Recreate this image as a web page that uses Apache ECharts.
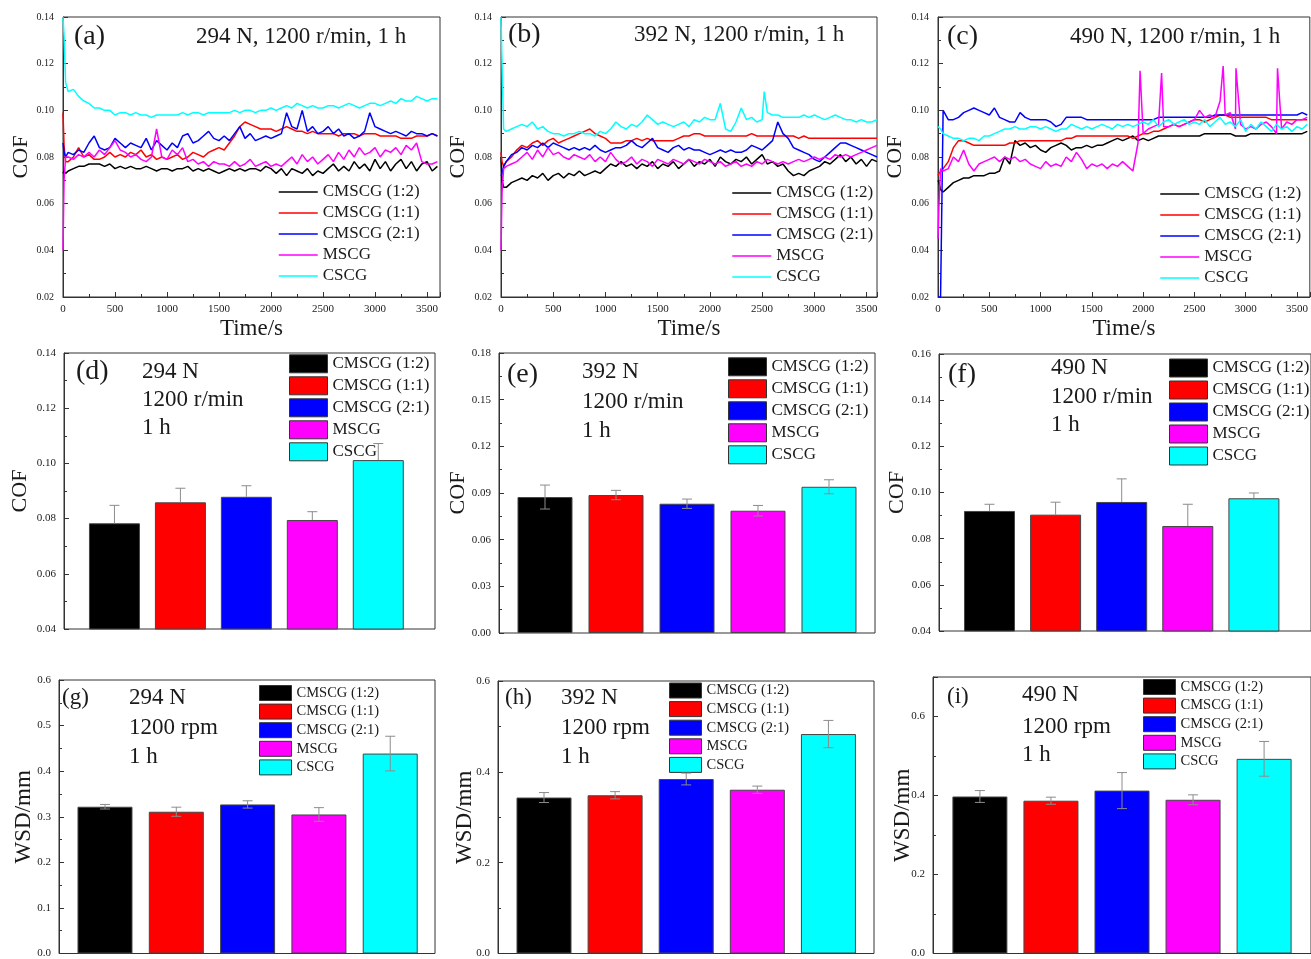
<!DOCTYPE html>
<html>
<head>
<meta charset="utf-8">
<script src="https://cdn.jsdelivr.net/npm/echarts@6/dist/echarts.min.js"></script>
<style>
  html, body { margin: 0; padding: 0; background: #fff; }
  #chart { width: 1311px; height: 959px; }
</style>
</head>
<body>
<div id="chart"></div>
<script>
const NAMES = ['CMSCG (1:2)', 'CMSCG (1:1)', 'CMSCG (2:1)', 'MSCG', 'CSCG'];
const COLORS = ['#000000', '#ff0000', '#0000ff', '#ff00ff', '#00ffff'];

// sampling times (s) of the COF traces
const TIME = [0, 10, 25,
  50, 100, 150, 200, 250, 300, 350, 400, 450, 500,
  550, 600, 650, 700, 750, 800, 850, 900, 950, 1000,
  1050, 1100, 1150, 1200, 1250, 1300, 1350, 1400, 1450, 1500,
  1550, 1600, 1650, 1700, 1750, 1800, 1850, 1900, 1950, 2000,
  2050, 2100, 2150, 2200, 2250, 2300, 2350, 2400, 2450, 2500,
  2550, 2600, 2650, 2700, 2750, 2800, 2850, 2900, 2950, 3000,
  3050, 3100, 3150, 3200, 3250, 3300, 3350, 3400, 3450, 3500,
  3550, 3600];

// COF x 1000, panel (a) 294 N
const a_cmscg12 = [73, 74, 73,
  74, 75, 76, 76, 77, 77, 77, 76, 77, 75,
  76, 75, 76, 75, 75, 76, 75, 74, 75, 75,
  74, 75, 75, 76, 74, 75, 74, 75, 74, 73,
  74, 75, 74, 75, 74, 75, 75, 74, 76, 75,
  73, 75, 72, 75, 74, 73, 75, 72, 74, 73,
  75, 77, 74, 76, 74, 78, 75, 77, 74, 79,
  75, 78, 74, 77, 79, 75, 78, 74, 77, 78,
  74, 76];
const a_cmscg11 = [99, 85, 78,
  78, 80, 84, 80, 81, 79, 79, 80, 82, 80,
  81, 80, 82, 81, 83, 80, 81, 79, 80, 79,
  80, 81, 79, 80, 82, 81, 80, 82, 83, 84,
  83, 86, 89, 93, 95, 94, 93, 92, 92, 92,
  91, 92, 93, 92, 91, 91, 90, 91, 90, 90,
  90, 90, 89, 90, 90, 90, 89, 90, 90, 90,
  89, 89, 89, 89, 88, 88, 88, 89, 89, 89,
  90, 89];
const a_cmscg21 = [86, 82, 80,
  82, 81, 83, 82, 86, 89, 84, 83, 84, 88,
  86, 84, 86, 85, 84, 88, 83, 87, 85, 83,
  86, 84, 89, 90, 86, 87, 89, 91, 88, 87,
  89, 87, 90, 93, 88, 90, 87, 88, 89, 88,
  89, 90, 99, 93, 92, 100, 91, 93, 90, 91,
  93, 90, 92, 89, 90, 88, 89, 91, 99, 93,
  92, 91, 90, 91, 90, 89, 91, 90, 90, 89,
  90, 89];
const a_mscg = [40, 70, 80,
  80, 79, 81, 80, 82, 80, 83, 81, 84, 87,
  83, 82, 80, 81, 79, 78, 80, 92, 80, 79,
  83, 81, 84, 78, 79, 77, 78, 76, 78, 77,
  77, 76, 78, 76, 77, 79, 76, 77, 78, 76,
  77, 76, 78, 80, 77, 81, 78, 80, 77, 79,
  81, 78, 82, 79, 83, 80, 84, 81, 82, 84,
  80, 83, 82, 84, 81, 85, 83, 86, 78, 77,
  77, 78];
const a_cscg = [140, 132, 112,
  108, 109, 106, 104, 103, 101, 101, 100, 100, 98,
  99, 99, 98, 99, 98, 98, 97, 98, 98, 98,
  98, 98, 99, 98, 99, 99, 98, 99, 99, 99,
  99, 99, 100, 99, 100, 100, 99, 100, 100, 101,
  100, 101, 102, 101, 103, 102, 101, 102, 101, 101,
  102, 102, 101, 102, 103, 102, 101, 102, 103, 103,
  102, 103, 104, 103, 105, 104, 104, 106, 105, 104,
  105, 105];

// COF x 1000, panel (b) 392 N
const b_cmscg12 = [80, 70, 67,
  67, 69, 70, 71, 70, 72, 71, 73, 70, 72,
  73, 71, 73, 72, 74, 72, 73, 74, 73, 75,
  77, 76, 78, 76, 77, 75, 77, 76, 78, 75,
  77, 76, 78, 75, 77, 79, 76, 78, 77, 79,
  76, 80, 78, 77, 79, 78, 80, 77, 79, 81,
  77, 78, 76, 77, 74, 72, 73, 72, 74, 75,
  76, 78, 77, 79, 81, 78, 80, 77, 79, 76,
  79, 78];
const b_cmscg11 = [82, 78, 76,
  78, 80, 83, 85, 84, 86, 87, 85, 87, 88,
  86, 87, 88, 89, 90, 91, 92, 90, 89, 88,
  86, 86, 86, 87, 87, 88, 87, 88, 87, 87,
  87, 87, 87, 88, 89, 89, 90, 90, 89, 89,
  89, 89, 89, 89, 89, 89, 89, 90, 89, 89,
  89, 89, 89, 89, 89, 89, 88, 89, 88, 88,
  88, 88, 88, 88, 88, 88, 88, 88, 88, 88,
  88, 88];
const b_cmscg21 = [72, 73, 76,
  78, 81, 82, 84, 83, 85, 84, 86, 84, 86,
  85, 84, 83, 84, 83, 84, 83, 85, 83, 82,
  83, 84, 84, 85, 87, 85, 84, 86, 88, 84,
  83, 82, 84, 85, 83, 84, 83, 83, 82, 81,
  82, 83, 82, 83, 82, 82, 83, 85, 84, 83,
  85, 87, 95, 90, 88, 84, 83, 82, 81, 79,
  78, 80, 82, 84, 86, 86, 85, 84, 83, 82,
  81, 80];
const b_mscg = [40, 65, 75,
  76, 77, 78, 80, 82, 79, 83, 80, 84, 81,
  82, 80, 79, 81, 80, 79, 81, 78, 80, 78,
  82, 79, 77, 78, 80, 77, 79, 78, 76, 79,
  78, 77, 79, 78, 77, 79, 78, 77, 79, 78,
  77, 78, 76, 77, 78, 76, 77, 76, 78, 77,
  79, 78, 77, 78, 77, 78, 79, 78, 79, 80,
  79, 80, 79, 81, 80, 81, 80, 81, 82, 83,
  84, 85];
const b_cscg = [140, 120, 92,
  91, 92, 93, 94, 93, 95, 92, 93, 91, 90,
  90, 89, 90, 90, 91, 90, 90, 89, 91, 90,
  92, 95, 93, 92, 94, 93, 95, 98, 96, 94,
  95, 94, 93, 94, 95, 93, 96, 95, 97, 96,
  96, 103, 92, 91, 95, 101, 96, 97, 95, 96,
  99, 98, 98, 97, 97, 97, 97, 98, 97, 98,
  97, 96, 97, 98, 97, 96, 96, 95, 96, 95,
  95, 96];
const b_cscg_spikes = [[2520, 108]];

// COF x 1000, panel (c) 490 N
const c_cmscg12 = [70, 69, 66,
  65, 67, 69, 70, 71, 71, 72, 72, 72, 73,
  73, 74, 80, 77, 87, 85, 86, 84, 85, 83,
  82, 84, 85, 86, 85, 83, 84, 84, 85, 84,
  85, 85, 86, 87, 88, 87, 88, 89, 87, 88,
  87, 88, 89, 89, 89, 89, 89, 89, 89, 89,
  89, 90, 90, 90, 90, 90, 90, 89, 89, 89,
  90, 90, 90, 90, 90, 90, 90, 90, 90, 90,
  90, 91];
const c_cmscg11 = [72, 73, 73,
  75, 78, 84, 87, 87, 86, 85, 85, 85, 85,
  85, 85, 85, 86, 86, 87, 87, 87, 87, 87,
  87, 87, 87, 87, 88, 88, 89, 89, 89, 89,
  89, 89, 89, 89, 89, 89, 89, 88, 89, 90,
  90, 91, 91, 92, 93, 94, 93, 94, 95, 96,
  96, 95, 96, 97, 98, 98, 97, 97, 97, 97,
  97, 97, 97, 97, 96, 96, 96, 96, 96, 96,
  96, 96];
const c_cmscg21 = [20, 20, 20,
  100, 96, 96, 97, 99, 100, 101, 100, 99, 98,
  101, 97, 96, 95, 95, 99, 97, 96, 96, 96,
  96, 95, 93, 94, 97, 97, 97, 97, 96, 96,
  96, 96, 96, 96, 96, 96, 96, 96, 96, 96,
  96, 96, 97, 97, 97, 97, 97, 97, 97, 97,
  97, 97, 97, 98, 98, 98, 98, 98, 98, 98,
  98, 98, 98, 98, 98, 98, 98, 98, 98, 98,
  99, 98];
const c_mscg = [45, 60, 75,
  74, 75, 80, 78, 83, 77, 74, 77, 78, 79,
  80, 78, 80, 79, 80, 78, 79, 77, 76, 75,
  78, 76, 77, 76, 80, 78, 82, 79, 75, 77,
  76, 77, 75, 77, 76, 78, 76, 74, 86, 90,
  92, 93, 94, 93, 93, 94, 93, 94, 95, 96,
  100, 97, 98, 97, 104, 98, 99, 92, 94, 92,
  93, 92, 94, 95, 93, 90, 92, 95, 94, 96,
  96, 97];
const c_mscg_spikes = [[1970, 117], [2180, 116], [2780, 119], [2905, 118], [3310, 118]];
const c_cscg = [93, 93, 92,
  90, 89, 88, 88, 87, 88, 88, 87, 89, 89,
  90, 91, 92, 92, 93, 92, 92, 93, 93, 92,
  93, 92, 91, 92, 92, 94, 93, 92, 93, 92,
  93, 94, 93, 92, 94, 93, 94, 93, 94, 95,
  94, 96, 93, 95, 96, 94, 95, 96, 94, 95,
  94, 96, 93, 95, 97, 94, 95, 93, 96, 91,
  94, 92, 95, 93, 91, 94, 92, 93, 91, 93,
  92, 94];

// mean COF and error, panels (d)-(f)
const d_cof = [0.0783, 0.0859, 0.0879, 0.0795, 0.1012];
const d_err = [0.0065, 0.0051, 0.0040, 0.0030, 0.0060];
const e_cof = [0.0874, 0.0887, 0.0831, 0.0786, 0.0940];
const e_err = [0.0077, 0.0030, 0.0030, 0.0034, 0.0045];
const f_cof = [0.0920, 0.0904, 0.0959, 0.0855, 0.0975];
const f_err = [0.0029, 0.0054, 0.0100, 0.0094, 0.0023];

// wear scar diameter (mm) and error, panels (g)-(i)
const g_wsd = [0.322, 0.311, 0.327, 0.305, 0.4386];
const g_err = [0.005, 0.010, 0.008, 0.015, 0.038];
const h_wsd = [0.3434, 0.3484, 0.3842, 0.3606, 0.4832];
const h_err = [0.011, 0.008, 0.013, 0.008, 0.030];
const i_wsd = [0.3975, 0.3868, 0.4124, 0.3892, 0.4928];
const i_err = [0.015, 0.009, 0.0456, 0.0125, 0.044];

const SERIF = 'Liberation Serif';
const INK = '#1a1a1a';
const FRAME = '#333';

const LINE_PANELS = [
  { id: 'a', box: [63, 17, 377, 280], xMax: 3625, traces: [a_cmscg12, a_cmscg11, a_cmscg21, a_mscg, a_cscg],
    spikes: [[], [], [], [], []], legend: [278, 183.5], yGap: 31 },
  { id: 'b', box: [501, 17, 376, 280], xMax: 3600, traces: [b_cmscg12, b_cmscg11, b_cmscg21, b_mscg, b_cscg],
    spikes: [[], [], [], [], b_cscg_spikes], legend: [731.5, 184.5], yGap: 31.5 },
  { id: 'c', box: [938, 17, 377, 280], xMax: 3625, traces: [c_cmscg12, c_cmscg11, c_cmscg21, c_mscg, c_cscg],
    spikes: [[], [], [], c_mscg_spikes, []], legend: [1159.5, 185.5], yGap: 32 }
];

const BAR_PANELS = [
  { id: 'd', box: [64, 353, 371, 276], x: [0.235, 5.86], y: [0.04, 0.14, 0.02], digits: 2, vals: d_cof, err: d_err,
    oneSided: true, barW: 51, yName: 'COF', yGap: 33, legend: [289, 354.3, 38, 18, 17, 3] },
  { id: 'e', box: [499, 353, 376, 280], x: [0.352, 5.648], y: [0, 0.18, 0.03], digits: 2, vals: e_cof, err: e_err,
    oneSided: false, barW: 55, yName: 'COF', yGap: 29.5, legend: [728, 357.3, 38, 18, 17, 3] },
  { id: 'f', box: [939, 354, 372, 277], x: [0.236, 5.864], y: [0.04, 0.16, 0.02], digits: 2, vals: f_cof, err: f_err,
    oneSided: true, barW: 51, yName: 'COF', yGap: 31, legend: [1169, 358.5, 38, 18, 17, 3] },
  { id: 'g', box: [59, 680, 376, 280], x: [0.355, 5.628], y: [0, 0.6, 0.1], digits: 1, vals: g_wsd, err: g_err,
    oneSided: false, barW: 55, yName: 'WSD/mm', yGap: 24, legend: [259, 685, 32, 15, 14.5, 2.6] },
  { id: 'h', box: [498, 681, 376, 279], x: [0.353, 5.641], y: [0, 0.6, 0.2], digits: 1, vals: h_wsd, err: h_err,
    oneSided: false, barW: 55, yName: 'WSD/mm', yGap: 21.5, legend: [669, 682.5, 32, 15, 14.5, 2.6] },
  { id: 'i', box: [933, 677, 379, 281], x: [0.34, 5.66], y: [0, 0.7, 0.2], digits: 1, vals: i_wsd, err: i_err,
    oneSided: false, barW: 55, yName: 'WSD/mm', yGap: 19, legend: [1143, 679, 32, 15, 14.5, 2.6] }
];

// [text, x, y(middle), font size]
const NOTES = [
  ['(a)', 74, 37, 28], ['294 N, 1200 r/min, 1 h', 196, 37, 23],
  ['(b)', 508, 35, 28], ['392 N, 1200 r/min, 1 h', 634, 35, 23],
  ['(c)', 947, 37, 28], ['490 N, 1200 r/min, 1 h', 1070, 37, 23],
  ['(d)', 76, 372, 28], ['294 N', 142, 372, 23], ['1200 r/min', 142, 400, 23], ['1 h', 142, 428, 23],
  ['(e)', 507, 375, 28], ['392 N', 582, 372, 23], ['1200 r/min', 582, 402, 23], ['1 h', 582, 431, 23],
  ['(f)', 948, 375, 28], ['490 N', 1051, 368, 23], ['1200 r/min', 1051, 397, 23], ['1 h', 1051, 425, 23],
  ['(g)', 62, 698, 23], ['294 N', 129, 698, 23], ['1200 rpm', 129, 728, 23], ['1 h', 129, 757, 23],
  ['(h)', 505, 698, 23], ['392 N', 561, 698, 23], ['1200 rpm', 561, 728, 23], ['1 h', 561, 757, 23],
  ['(i)', 947, 697, 23], ['490 N', 1022, 695, 23], ['1200 rpm', 1022, 727, 23], ['1 h', 1022, 755, 23]
];

const chart = echarts.init(document.getElementById('chart'));

const grid = [], xAxis = [], yAxis = [], series = [], legend = [];

function tickStyle() {
  return {
    axisLine: { show: true, onZero: false, lineStyle: { color: FRAME, width: 1 } },
    axisTick: { show: true, inside: true, length: 5, lineStyle: { color: FRAME } },
    minorTick: { show: true, splitNumber: 2, length: 3, lineStyle: { color: FRAME } },
    splitLine: { show: false }
  };
}

function addGrid(box) {
  grid.push({ left: box[0], top: box[1], width: box[2], height: box[3],
    show: true, borderColor: FRAME, borderWidth: 1, backgroundColor: 'transparent' });
  return grid.length - 1;
}

const stripTag = n => n.split('#')[0];

LINE_PANELS.forEach(p => {
  const k = addGrid(p.box);
  xAxis.push(Object.assign({
    type: 'value', gridIndex: k, min: 0, max: p.xMax, interval: 500,
    name: 'Time/s', nameLocation: 'middle', nameGap: 20,
    nameTextStyle: { fontFamily: SERIF, fontSize: 23, color: INK },
    axisLabel: { fontFamily: SERIF, fontSize: 11, color: INK, margin: 7, showMaxLabel: false,
      formatter: v => String(Math.round(v)) }
  }, tickStyle()));
  yAxis.push(Object.assign({
    type: 'value', gridIndex: k, min: 0.02, max: 0.14, interval: 0.02,
    name: 'COF', nameLocation: 'middle', nameGap: p.yGap, nameMoveOverlap: false,
    nameTextStyle: { fontFamily: SERIF, fontSize: 22, color: INK },
    axisLabel: { fontFamily: SERIF, fontSize: 10, color: INK, margin: 9, formatter: v => v.toFixed(2) }
  }, tickStyle()));
  p.traces.forEach((vals, j) => {
    const pts = vals.map((v, i) => [TIME[i], v / 1000]);
    p.spikes[j].forEach(s => pts.push([s[0], s[1] / 1000]));
    pts.sort((u, w) => u[0] - w[0]);
    series.push({
      type: 'line', name: NAMES[j] + '#' + p.id, xAxisIndex: k, yAxisIndex: k,
      data: pts, symbol: 'none', clip: true,
      lineStyle: { color: COLORS[j], width: 1.5 }, itemStyle: { color: COLORS[j] }
    });
  });
  legend.push({
    orient: 'vertical', left: p.legend[0], top: p.legend[1], padding: 0,
    itemWidth: 39, itemHeight: 14, itemGap: 4, selectedMode: false,
    itemStyle: { opacity: 0 }, lineStyle: { width: 1.5, opacity: 1 },
    data: NAMES.map(n => n + '#' + p.id), formatter: stripTag,
    textStyle: { fontFamily: SERIF, fontSize: 17, color: INK, lineHeight: 17 }
  });
});

function renderErr(params, api) {
  const x = api.value(0);
  const top = api.coord([x, api.value(2)]);
  const bot = api.coord([x, api.value(1)]);
  const hw = 5;
  const st = { stroke: '#8c8c8c', lineWidth: 1 };
  const kids = [
    { type: 'line', shape: { x1: top[0], y1: top[1], x2: bot[0], y2: bot[1] }, style: st },
    { type: 'line', shape: { x1: top[0] - hw, y1: top[1], x2: top[0] + hw, y2: top[1] }, style: st }
  ];
  if (api.value(3)) {
    kids.push({ type: 'line', shape: { x1: bot[0] - hw, y1: bot[1], x2: bot[0] + hw, y2: bot[1] }, style: st });
  }
  return { type: 'group', children: kids };
}

BAR_PANELS.forEach(p => {
  const k = addGrid(p.box);
  xAxis.push({
    type: 'value', gridIndex: k, min: p.x[0], max: p.x[1],
    axisLine: { show: false }, axisTick: { show: false }, axisLabel: { show: false }, splitLine: { show: false }
  });
  yAxis.push(Object.assign({
    type: 'value', gridIndex: k, min: p.y[0], max: p.y[1], interval: p.y[2],
    name: p.yName, nameLocation: 'middle', nameGap: p.yGap, nameMoveOverlap: false,
    nameTextStyle: { fontFamily: SERIF, fontSize: p.yName === 'COF' ? 22 : 23, color: INK },
    axisLabel: { fontFamily: SERIF, fontSize: 11, color: INK, margin: 8, showMaxLabel: p.id !== 'i',
      formatter: v => v.toFixed(p.digits) }
  }, tickStyle()));
  p.vals.forEach((v, j) => {
    series.push({
      type: 'bar', name: NAMES[j] + '#' + p.id, xAxisIndex: k, yAxisIndex: k,
      data: [[j + 1, v]], barWidth: p.barW, barGap: '-100%', clip: true,
      itemStyle: { color: COLORS[j], borderColor: '#454545', borderWidth: 1 }
    });
  });
  series.push({
    type: 'custom', name: 'err#' + p.id, xAxisIndex: k, yAxisIndex: k, z: 5,
    renderItem: renderErr, encode: { x: 0, y: [1, 2] },
    data: p.vals.map((v, j) => [j + 1, p.oneSided ? v : v - p.err[j], v + p.err[j], p.oneSided ? 0 : 1])
  });
  const L = p.legend;
  legend.push({
    orient: 'vertical', left: L[0], top: L[1], padding: 0, icon: 'rect',
    itemWidth: L[2], itemHeight: L[3], itemGap: L[5], selectedMode: false,
    itemStyle: { borderColor: '#333', borderWidth: 1 },
    data: NAMES.map(n => n + '#' + p.id), formatter: stripTag,
    textStyle: { fontFamily: SERIF, fontSize: L[4], color: INK, lineHeight: L[4] }
  });
});

const graphic = NOTES.map(n => ({
  type: 'text', x: n[1], y: n[2], silent: true,
  style: { text: n[0], fontFamily: SERIF, fontSize: n[3], fill: INK, verticalAlign: 'middle', align: 'left' }
}));

chart.setOption({
  animation: false,
  backgroundColor: '#ffffff',
  grid, xAxis, yAxis, series, legend, graphic
});
</script>
</body>
</html>
